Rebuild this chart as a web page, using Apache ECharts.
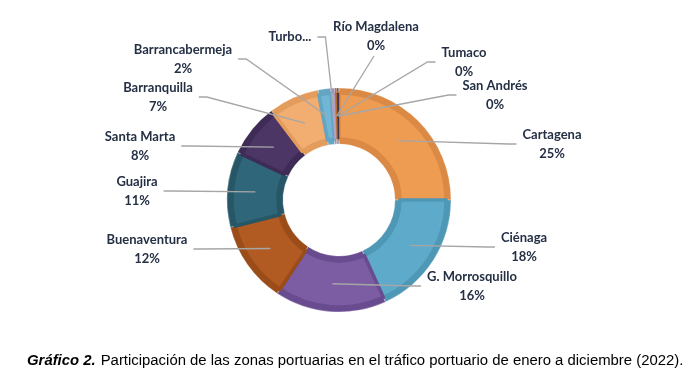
<!DOCTYPE html>
<html><head><meta charset="utf-8">
<script src="https://cdn.jsdelivr.net/npm/echarts@6/dist/echarts.min.js"></script>
<style>html,body{margin:0;padding:0;background:#fff}#c{width:696px;height:381px}</style>
</head><body><div id="c"></div>
<script>
// ---- data ----
const categories = ['Cartagena','Ciénaga','G. Morrosquillo','Buenaventura','Guajira','Santa Marta','Barranquilla','Barrancabermeja','Turbo','Río Magdalena','Tumaco','San Andrés'];
const shares = [25.0, 18.2, 16.1, 11.8, 10.9, 7.7, 7.3, 1.8, 0.6, 0.3, 0.2, 0.1];
const captionBold = 'Gráfico 2.';
const captionText = 'Participación de las zonas portuarias en el tráfico portuario de enero a diciembre (2022).';

// ---- styles ----
const fillColors = ['#EE9C52','#5DAACA','#7C5CA3','#B15B22','#2F6679','#4C3666','#F2AE70','#72B6D5','#B3A3C9','#C2702E','#2A4766','#3E2C55'];
const edgeColors = ['#DB8A45','#4E98B6','#694B8F','#9A4C19','#275667','#3E2B56','#E39C5C','#63A5C3','#A090B8','#A85F25','#233C57','#33244A'];
// label block centre offset from pie centre (px) and side where the leader line attaches
const labelLayoutCfg = [[213,-56,'L'],[185,47,'L'],[133,86,'L'],[-192,49,'R'],[-202,-9,'R'],[-199,-54,'R'],[-181,-103,'R'],[-156,-141,'R'],[-49,-163,'R'],[37,-164,'B'],[125,-138,'L'],[156,-105,'L']];
const CX = 339, CY = 200, R_IN = 56, R_OUT = 112;

const total = shares.reduce((a, b) => a + b, 0);
// leader-line start: middle of the ring at each slice's mid angle (clockwise from 12 o'clock)
const anchorPts = (() => {
  let acc = 0;
  return shares.map(v => {
    const mid = (acc + v / 2) / total * 2 * Math.PI;
    acc += v;
    const r = (R_IN + R_OUT) / 2;
    return [CX + r * Math.sin(mid), CY - r * Math.cos(mid)];
  });
})();

const chart = echarts.init(document.getElementById('c'));
const base = categories.map((n, i) => ({ name: n, value: shares[i] }));

chart.setOption({
  animation: false,
  backgroundColor: '#fff',
  title: {
    left: 22, top: 347,
    text: '{b|' + captionBold + '} {n|' + captionText + '}',
    textStyle: {
      fontWeight: 'normal',
      rich: {
        b: { fontFamily: 'Liberation Sans, Arial, sans-serif', fontSize: 14.9, fontWeight: 'bold', fontStyle: 'italic', color: '#000', lineHeight: 16 },
        n: { fontFamily: 'Liberation Sans, Arial, sans-serif', fontSize: 14.9, fontWeight: 'normal', color: '#000', lineHeight: 16 }
      }
    }
  },
  series: [
    {
      type: 'pie', silent: true, z: 1, center: [CX, CY], radius: [R_IN, R_OUT],
      startAngle: 90, clockwise: true,
      label: { show: false }, labelLine: { show: false },
      itemStyle: { borderColor: 'rgba(255,255,255,0.5)', borderWidth: 0.6 },
      data: base.map((d, i) => ({ ...d, itemStyle: { color: edgeColors[i] } }))
    },
    {
      type: 'pie', silent: true, z: 2, center: [CX, CY], radius: [R_IN + 5, R_OUT - 5],
      startAngle: 90, clockwise: true,
      label: { show: false }, labelLine: { show: false },
      data: base.map((d, i) => ({ ...d, itemStyle: { color: fillColors[i], borderColor: edgeColors[i], borderWidth: d.value < 1 ? 0.3 : 3.5, borderJoin: 'round' } }))
    },
    {
      type: 'pie', silent: true, z: 5, center: [CX, CY], radius: [0, 84],
      startAngle: 90, clockwise: true, avoidLabelOverlap: false,
      itemStyle: { color: 'rgba(0,0,0,0)' },
      label: {
        show: true, position: 'outside',
        fontFamily: 'Lato, sans-serif', fontWeight: 'bold', fontSize: 13,
        color: '#253045', lineHeight: 19, align: 'center',
        formatter: p => p.name === 'Turbo' ? 'Turbo...' : p.name + '\n' + Math.round(p.value) + '%'
      },
      labelLine: { show: true, length: 10, length2: 10, lineStyle: { color: '#A6A6A6', width: 1.3 } },
      labelLayout: function (params) {
        const i = params.dataIndex;
        const c = labelLayoutCfg[i];
        const x = CX + c[0], y = CY + c[1];
        const w = params.labelRect.width, h = params.labelRect.height;
        let end, bend;
        if (c[2] === 'L') { end = [x - w / 2 - 6, y]; bend = [end[0] - 8, y]; }
        else if (c[2] === 'R') { end = [x + w / 2 + 6, y]; bend = [end[0] + 8, y]; }
        else { end = [x - 2, y + h / 2 + 1]; bend = end; }
        return { x: x, y: y, align: 'center', verticalAlign: 'middle', labelLinePoints: [anchorPts[i], bend, end] };
      },
      data: base
    }
  ]
});
</script></body></html>
